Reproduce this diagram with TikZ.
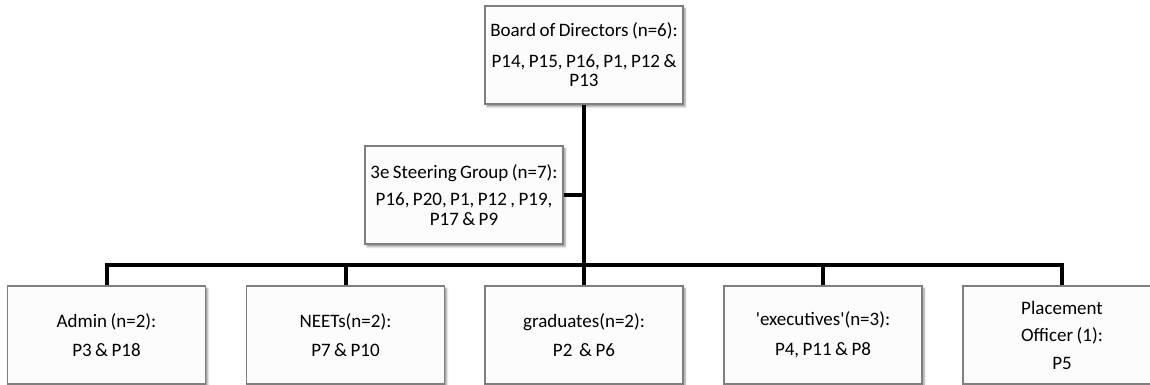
\documentclass[tikz,border=0pt]{standalone}
\usepackage{fontspec}
\setmainfont{Carlito}[WordSpace=0.8]
\usetikzlibrary{shadows.blur}
\definecolor{boxline}{HTML}{7F7F7F}
\definecolor{boxfill}{HTML}{FCFCFC}
\begin{document}
\begin{tikzpicture}[x=1pt,y=-1pt,
  unit/.style={draw=boxline, line width=1.2pt, fill=boxfill,
    minimum width=198pt, minimum height=98pt, inner sep=2pt,
    align=center,
    font=\fontsize{19}{19.5}\selectfont,
    blur shadow={shadow xshift=2pt, shadow yshift=-2.5pt,
      shadow blur radius=2pt, shadow opacity=45}},
  conn/.style={line width=4pt, draw=black, line join=miter}]
\useasboundingbox (0,0) rectangle (1150,385);

% top level
\node[unit] (board) at (584,55)
  {Board of Directors (n=6):\\[11pt]P14, P15, P16, P1, P12 \&\\P13};
% steering group beside the trunk
\node[unit] (steer) at (464,195)
  {3e Steering Group (n=7):\\[8pt]P16, P20, P1, P12 , P19,\\P17 \& P9};

% bottom row
\node[unit] (adm) at (106.5,335) {Admin (n=2):\\[10pt]P3 \& P18};
\node[unit] (nee) at (345.5,335) {NEETs(n=2):\\[10pt]P7 \& P10};
\node[unit] (gra) at (584,335) {graduates(n=2):\\[10pt]P2~~\& P6};
\node[unit] (exe) at (823,335) {\textquotesingle executives\textquotesingle(n=3):\\[10pt]P4, P11 \& P8};
\node[unit] (pla) at (1062,335) {Placement\\[8pt]Officer (1):\\[8pt]P5};

\coordinate (bus) at (584,265);

% connectors
\draw[conn] (board.south) -- (gra.north);
\draw[conn] (steer.east) -- (steer.east -| bus);
\draw[conn] (adm.north) -- (adm.north |- bus) -- (pla.north |- bus) -- (pla.north);
\draw[conn] (nee.north) -- (nee.north |- bus);
\draw[conn] (exe.north) -- (exe.north |- bus);
\end{tikzpicture}
\end{document}
